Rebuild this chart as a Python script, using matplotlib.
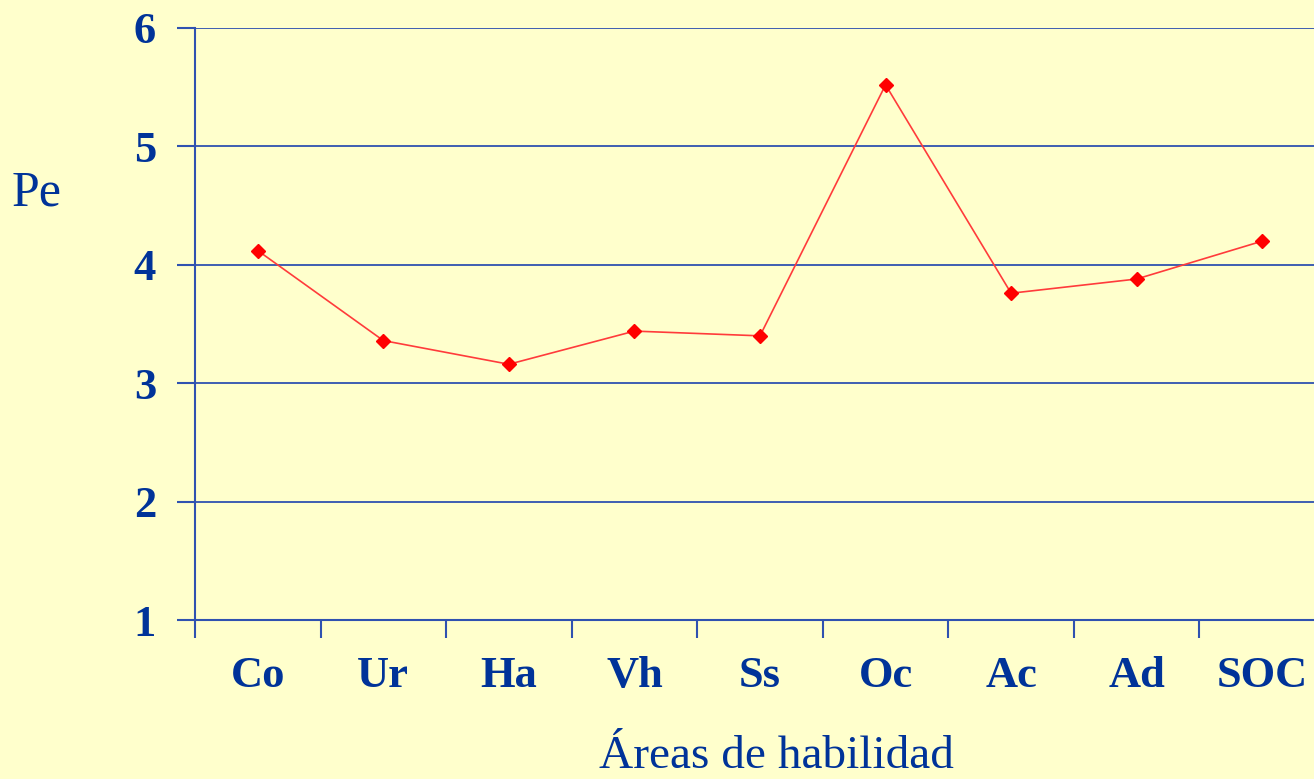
import matplotlib
matplotlib.use('Agg')
import matplotlib.pyplot as plt
import numpy as np

categories = ["Co", "Ur", "Ha", "Vh", "Ss", "Oc", "Ac", "Ad", "SOC"]
pe_values = [4.12, 3.36, 3.16, 3.44, 3.40, 5.52, 3.76, 3.88, 4.20]
y_ticks = [1, 2, 3, 4, 5, 6]

bg = '#FFFFCC'
text_blue = '#003399'
line_blue = '#2F52B0'

plt.rcParams['font.family'] = ['Liberation Serif', 'DejaVu Serif']

fig = plt.figure(figsize=(13.14, 7.79), dpi=100, facecolor=bg)
ax = fig.add_axes([195 / 1314, 159 / 779, 1130 / 1314, 592 / 779])
ax.set_facecolor(bg)

x = np.arange(len(categories))
ax.plot(x, pe_values, color='#FF3B3B', lw=1.2, zorder=3)
ax.plot(x, pe_values, ls='none', marker='D', ms=7.5, color='#FF0000',
        mec='#FF0000', zorder=4)

ax.set_xlim(-0.5, len(categories) - 0.5)
ax.set_ylim(1, 6)

ax.set_yticks(y_ticks)
ax.set_yticklabels([str(v) for v in y_ticks], fontsize=32, fontweight='bold',
                   color=text_blue)
ax.tick_params(axis='y', length=13, width=1.5, color=line_blue, pad=15)

ax.set_xticks(np.arange(-0.5, len(categories), 1.0))
ax.set_xticklabels([])
ax.tick_params(axis='x', which='major', length=13, width=1.5, color=line_blue,
               direction='out')
ax.set_xticks(x, minor=True)
ax.set_xticklabels(categories, minor=True, fontsize=32, fontweight='bold',
                   color=text_blue)
ax.tick_params(axis='x', which='minor', length=0, pad=26)

ax.grid(axis='y', color=line_blue, lw=1.3)
for side in ['top', 'right']:
    ax.spines[side].set_visible(False)
for side in ['left', 'bottom']:
    ax.spines[side].set_color(line_blue)
    ax.spines[side].set_linewidth(1.5)

fig.text(776 / 1314, 11 / 779, "Áreas de habilidad", fontsize=34,
         color=text_blue, ha='center', va='baseline')
fig.text(12 / 1314, 1 - 205 / 779, "Pe", fontsize=36, color=text_blue,
         ha='left', va='baseline')

fig.savefig('out.png', dpi=100, facecolor=bg)
